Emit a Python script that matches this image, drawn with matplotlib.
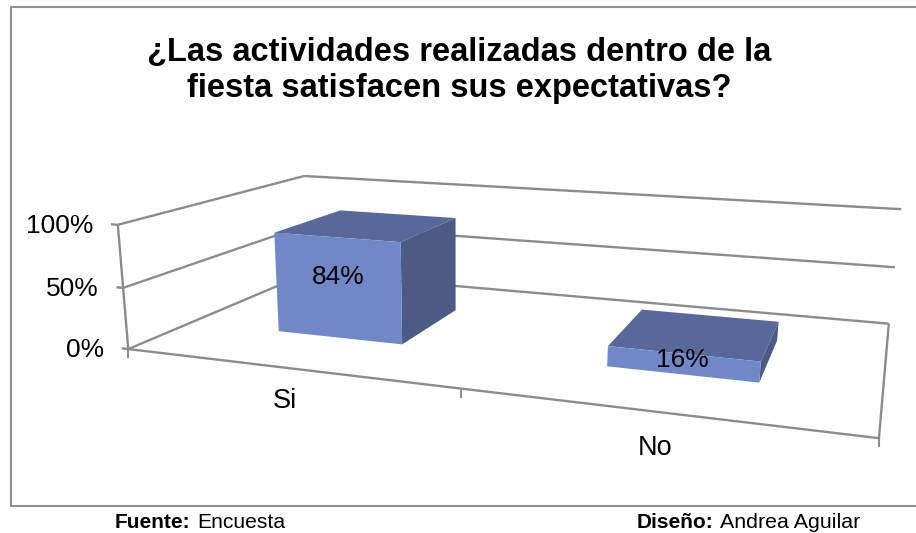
import numpy as np
import matplotlib
matplotlib.use("Agg")
import matplotlib.pyplot as plt
from matplotlib.patches import Polygon, Rectangle

plt.rcParams['font.family'] = ['Liberation Sans', 'DejaVu Sans']

title = "¿Las actividades realizadas dentro de la\nfiesta satisfacen sus expectativas?"
categories = ["Si", "No"]
values = [84, 16]
ticks = [0, 50, 100]

# box corners on the picture, (across, depth, height) -> pixel
box = [(0, 0, 0, 129, 349), (1, 0, 0, 879, 438), (1, 1, 0, 889, 324), (0, 1, 0, 307, 273),
       (0, 0, 1, 117, 225), (0, 1, 1, 305, 176), (1, 1, 1, 901, 209)]

rows = []
for a, d, h, px, py in box:
    rows.append([a, d, h, 1, 0, 0, 0, 0, -px * a, -px * d, -px * h, -px])
    rows.append([0, 0, 0, 0, a, d, h, 1, -py * a, -py * d, -py * h, -py])
P = np.linalg.svd(np.array(rows, float))[2][-1].reshape(3, 4)

def proj(a, d, h):
    q = P @ np.array([a, d, h, 1.0])
    return q[0] / q[2], q[1] / q[2]

fig = plt.figure(figsize=(9.16, 5.33), dpi=100)
ax = fig.add_axes([0, 0, 1, 1])
ax.set_xlim(0, 916)
ax.set_ylim(533, 0)
ax.axis("off")

# right side of the frame is cut off in the picture
ax.add_patch(Rectangle((10.5, 6.5), 915, 499.5, fc="white", ec="#8f8f8f", lw=1.5))

grey = "#8c8c8c"
def edge(p0, p1):
    ax.plot(*zip(proj(*p0), proj(*p1)), color=grey, lw=1.7, solid_capstyle="butt", zorder=2)

for t in ticks:
    h = t / 100
    edge((0, 0, h), (0, 1, h))
    edge((0, 1, h), (1, 1, h))
    edge((0, 0, h), (-0.011, 0, h))
    ax.text(proj(-0.016, 0, h)[0] - 15, proj(0, 0, h)[1] + 1, f"{t}%", ha="right", va="center", fontsize=19)
edge((0, 0, 0), (0, 0, 1))
edge((0, 0, 0), (1, 0, 0))
edge((1, 0, 0), (1, 1, 0))
n = len(categories)
for i in range(n + 1):
    x, y = proj(i / n, 0, 0)
    ax.plot([x, x], [y, y + 8], color=grey, lw=1.5, zorder=2)

width = 0.4 / n
d0, d1 = 0.3, 0.7
for i, (c, v) in enumerate(zip(categories, values)):
    a0 = (i + 0.5) / n - width / 2
    a1 = a0 + width
    h = v / 100
    ax.add_patch(Polygon([proj(a0, d1, h), proj(a1, d1, h), proj(a1, d0, h), proj(a0, d0, h)], fc="#58689a", ec="none", zorder=3))
    ax.add_patch(Polygon([proj(a1, d0, 0), proj(a1, d1, 0), proj(a1, d1, h), proj(a1, d0, h)], fc="#4c5a85", ec="none", zorder=3))
    ax.add_patch(Polygon([proj(a0, d0, 0), proj(a1, d0, 0), proj(a1, d0, h), proj(a0, d0, h)], fc="#7087c8", ec="none", zorder=3))

ax.text(338, 277, f"{values[0]}%", ha="center", va="center", fontsize=19, zorder=4)
ax.text(682.5, 360, f"{values[1]}%", ha="center", va="center", fontsize=19, zorder=4)
ax.text(285, 401, categories[0], ha="center", va="center", fontsize=19.5)
ax.text(655.5, 448, categories[1], ha="center", va="center", fontsize=19.5)

ax.text(459, 70.5, title, ha="center", va="center", fontsize=23.5, fontweight="bold", linespacing=1.24)

ax.text(115, 522, "Fuente:", ha="left", va="center", fontsize=15, fontweight="bold")
ax.text(197, 522, "Encuesta", ha="left", va="center", fontsize=15.2)
ax.text(637, 522, "Diseño:", ha="left", va="center", fontsize=15, fontweight="bold")
ax.text(720, 522, "Andrea Aguilar", ha="left", va="center", fontsize=15.4)

fig.savefig("out.png", dpi=100)
